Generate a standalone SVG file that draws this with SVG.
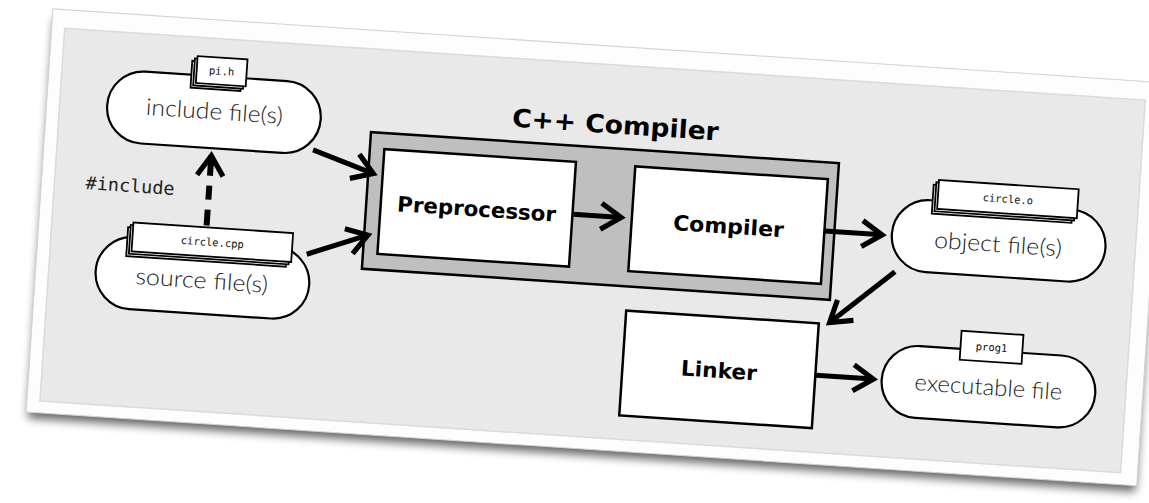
<svg xmlns="http://www.w3.org/2000/svg" width="1149" height="503" viewBox="0 0 1149 503">
<defs>
<style>
.box{fill:#fff;stroke:#000;stroke-width:2.5}
.oval{fill:#fff;stroke:#000;stroke-width:2.2}
.tab{fill:#fff;stroke:#000;stroke-width:1.8}
.lbl{font-family:'DejaVu Sans','Liberation Sans',sans-serif;font-weight:bold;font-size:21px;text-anchor:middle;fill:#000}
.ovl{font-family:Lato,'Open Sans','Liberation Sans',sans-serif;font-weight:300;font-size:23px;text-anchor:middle;fill:#222}
.mono{font-family:'DejaVu Sans Mono','Liberation Mono',monospace;font-size:10.5px;text-anchor:middle;fill:#111}
.conn{fill:none;stroke:#000;stroke-width:5;marker-end:url(#ah)}
</style>
<marker id="ah" markerUnits="userSpaceOnUse" viewBox="-30 -30 60 60" markerWidth="60" markerHeight="60" refX="0" refY="0" orient="auto" overflow="visible">
<path d="M-20,-13 L0,0 L-20,13" fill="none" stroke="#000" stroke-width="5.2"/>
</marker>
<filter id="sh" x="-5%" y="-10%" width="110%" height="130%"><feGaussianBlur stdDeviation="5"/></filter>
</defs>
<rect width="1149" height="503" fill="#fff"/>
<g transform="rotate(3.8 574.5 251.5)">
<g id="card">
<rect x="40" y="53" width="1110" height="401" fill="#000" opacity="0.6" filter="url(#sh)"/>
<rect x="38" y="44" width="1113" height="404" fill="#fdfdfd" stroke="#d2d2d2" stroke-width="1"/>
<rect x="51" y="62.6" width="1083" height="373.5" fill="#e9e9e9" stroke="#dadada" stroke-width="1.5"/>
</g>
<g id="cpp-compiler">
<rect x="363.5" y="145.8" width="469" height="137" fill="#bfbfbf" stroke="#000" stroke-width="2.5"/>
<text x="607" y="131" class="lbl" style="font-size:25px" textLength="207" lengthAdjust="spacingAndGlyphs">C++ Compiler</text>
</g>
<g id="preprocessor">
<rect x="378" y="162" width="192" height="105" class="box"/>
<text x="474" y="223" class="lbl" textLength="159" lengthAdjust="spacingAndGlyphs">Preprocessor</text>
</g>
<g id="compiler">
<rect x="629.5" y="162.5" width="193" height="105" class="box"/>
<text x="726.5" y="223.5" class="lbl" textLength="111" lengthAdjust="spacingAndGlyphs">Compiler</text>
</g>
<g id="linker">
<rect x="630" y="307" width="193" height="105" class="box"/>
<text x="726.5" y="368" class="lbl" textLength="76" lengthAdjust="spacingAndGlyphs">Linker</text>
</g>
<g id="include-file">
<rect x="98.5" y="100.5" width="214" height="72" rx="36" class="oval"/>
<text x="206" y="143.5" class="ovl" textLength="137" lengthAdjust="spacingAndGlyphs">include file(s)</text>
<rect x="180.5" y="86.5" width="50" height="27" class="tab"/>
<rect x="183" y="84" width="50" height="27" class="tab"/>
<rect x="185.5" y="81.5" width="50" height="27" class="tab"/>
<text x="210.5" y="98.7" class="mono">pi.h</text>
</g>
<g id="source-file">
<rect x="98" y="266.5" width="214" height="72" rx="36" class="oval"/>
<text x="204.5" y="313" class="ovl" textLength="133" lengthAdjust="spacingAndGlyphs">source file(s)</text>
<rect x="127.5" y="256.8" width="160" height="29" class="tab"/>
<rect x="130" y="254.3" width="160" height="29" class="tab"/>
<rect x="132.5" y="251.8" width="160" height="29" class="tab"/>
<text x="212.5" y="270" class="mono">circle.cpp</text>
</g>
<g id="object-file">
<rect x="890" y="176.8" width="214" height="72" rx="36" class="oval"/>
<text x="996.6" y="224" class="ovl" textLength="128" lengthAdjust="spacingAndGlyphs">object file(s)</text>
<rect x="928.5" y="161" width="140" height="29" class="tab"/>
<rect x="931" y="158.5" width="140" height="29" class="tab"/>
<rect x="933.5" y="156" width="140" height="29" class="tab"/>
<text x="1003.5" y="174.2" class="mono">circle.o</text>
</g>
<g id="executable-file">
<rect x="889.5" y="323" width="214" height="72" rx="36" class="oval"/>
<text x="996.5" y="367.3" class="ovl" textLength="148" lengthAdjust="spacingAndGlyphs">executable file</text>
<rect x="966" y="305" width="62" height="29" class="tab"/>
<text x="997" y="323.2" class="mono">prog1</text>
</g>
<g id="connectors">
<path class="conn" d="M306.9,167.5 L368.5,187.1"/>
<path class="conn" d="M307.5,272 L367.2,248.9"/>
<path class="conn" d="M570.8,214.5 L618.7,214.5"/>
<path class="conn" d="M823,214.5 L880.3,214.5"/>
<path class="conn" d="M895.6,250.4 L833.8,305.4"/>
<path class="conn" d="M823.7,359 L881.1,359"/>
<path class="conn" d="M205.8,180 L205.7,250" style="marker-end:none;stroke-width:6;stroke-dasharray:20 10 14 10 20"/>
<path class="conn" d="M205.8,190 L205.8,180" style="stroke-width:6"/>
<text x="126.8" y="221.6" style="font-family:'DejaVu Sans Mono','Liberation Mono',monospace;font-size:18px;fill:#222;text-anchor:middle" textLength="89" lengthAdjust="spacingAndGlyphs">#include</text>
</g>
</g>
</svg>
